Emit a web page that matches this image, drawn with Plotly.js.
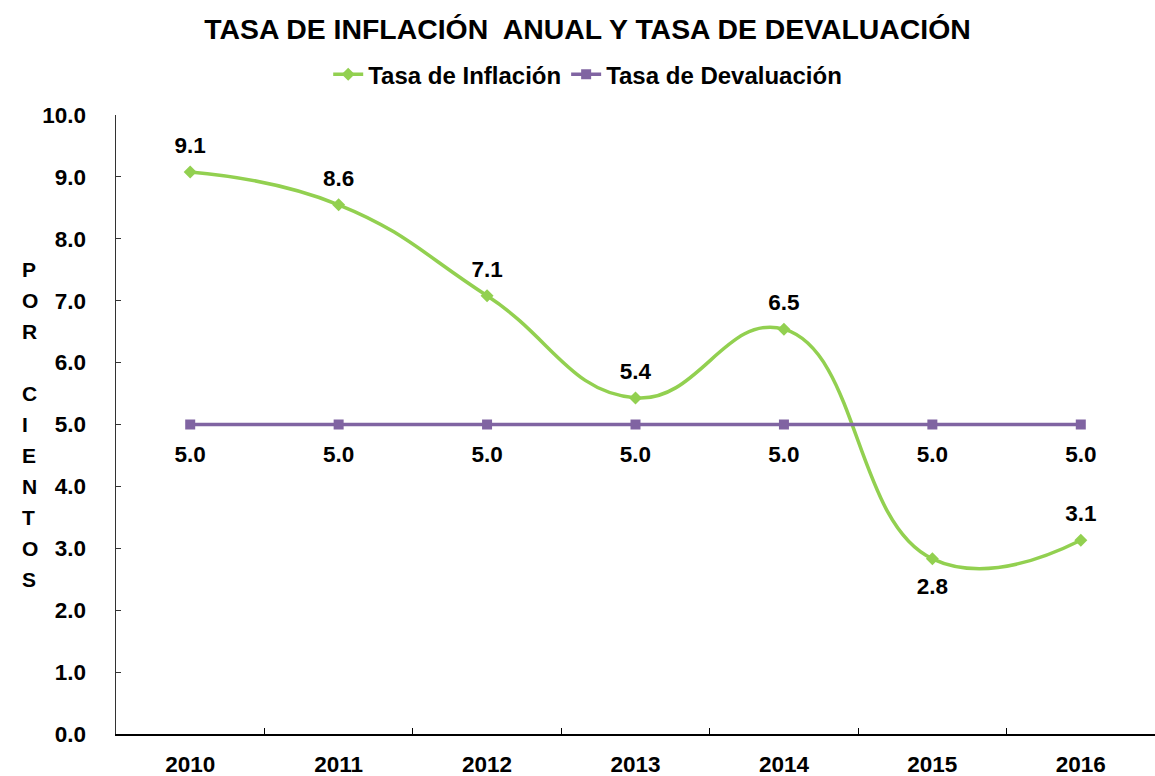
<!DOCTYPE html>
<html><head><meta charset="utf-8">
<script src="https://cdn.plot.ly/plotly-3.0.1.min.js"></script>
<style>body{margin:0;background:#fff}#c{width:1155px;height:776px}</style>
</head><body><div id="c"></div>
<script>
const years = ['2010','2011','2012','2013','2014','2015','2016'];
const inflacion = [9.08, 8.55, 7.08, 5.43, 6.54, 2.83, 3.13];
const devaluacion = [5.0, 5.0, 5.0, 5.0, 5.0, 5.0, 5.0];
const inflacionPos = ['top center','top center','top center','top center','top center','bottom center','top center'];
const yTitleLetters = ['P','O','R','','C','I','E','N','T','O','S'];
const yTitleLevels = [7.5,7.0,6.5,6.0,5.5,5.0,4.5,4.0,3.5,3.0,2.5];

const F = 'Liberation Sans, Arial, sans-serif';
const FS = 22.5;
const labelFont = {family: F, size: FS, color: '#000', weight: 'bold'};
const traces = [
 {x: years, y: inflacion, name: 'Tasa de Inflación', type: 'scatter', mode: 'lines+markers',
  line: {color: '#92D050', width: 3.5, shape: 'spline', smoothing: 1.3},
  marker: {symbol: 'diamond', size: 10, color: '#92D050'}, cliponaxis: false},
 {x: years, y: devaluacion, name: 'Tasa de Devaluación', type: 'scatter', mode: 'lines+markers',
  line: {color: '#8064A2', width: 3.5},
  marker: {symbol: 'square', size: 10, color: '#8064A2'}, cliponaxis: false},
 // data labels (invisible markers set the label offset)
 {x: years, y: inflacion, type: 'scatter', mode: 'markers+text', showlegend: false, hoverinfo: 'skip',
  marker: {size: inflacionPos.map(p => p.startsWith('bottom') ? 27 : 20), opacity: 0},
  texttemplate: '%{y:.1f}', textposition: inflacionPos, textfont: labelFont, cliponaxis: false},
 {x: years, y: devaluacion, type: 'scatter', mode: 'markers+text', showlegend: false, hoverinfo: 'skip',
  marker: {size: 32, opacity: 0},
  texttemplate: '%{y:.1f}', textposition: 'bottom center', textfont: labelFont, cliponaxis: false}
];
const annotations = yTitleLetters.map((t,i)=>({text: t, xref: 'paper', x: -0.092, yref: 'y', y: yTitleLevels[i],
  showarrow: false, font: {family: F, size: 21, color: '#000', weight: 'bold'}}));
const layout = {
 width: 1155, height: 776,
 margin: {l: 116, r: 0, t: 115, b: 42},
 paper_bgcolor: '#fff', plot_bgcolor: '#fff',
 font: {family: F, color: '#000'},
 title: {text: 'TASA DE INFLACIÓN  ANUAL Y TASA DE DEVALUACIÓN', font: {family: F, size: 28.4, color: '#000', weight: 'bold'},
   x: 0.5087, xanchor: 'center', yref: 'container', y: 1 - 29/776, yanchor: 'middle'},
 showlegend: true,
 legend: {orientation: 'h', x: 0.454, xanchor: 'center', y: 1.065, yanchor: 'middle',
   font: {family: F, size: 24, color: '#000', weight: 'bold'}, itemwidth: 30, tracegroupgap: 0},
 xaxis: {type: 'category', range: [-0.5, 6.5], showgrid: false, zeroline: false,
   showline: true, linecolor: '#000', linewidth: 1.5, ticks: 'inside', tickson: 'boundaries', ticklen: 6, tickcolor: '#000',
   ticklabelstandoff: 9,
   tickfont: {family: F, size: FS, color: '#000', weight: 'bold'}, fixedrange: true},
 yaxis: {range: [0, 10], dtick: 1, tickformat: '.1f', showgrid: false, zeroline: false,
   showline: true, linecolor: '#333', linewidth: 1.5, ticks: 'inside', ticklen: 5, tickcolor: '#333',
   ticklabelstandoff: 24,
   tickfont: {family: F, size: FS, color: '#000', weight: 'bold'}, fixedrange: true},
 annotations: annotations
};
Plotly.newPlot('c', traces, layout, {displayModeBar: false, staticPlot: true});
</script></body></html>
